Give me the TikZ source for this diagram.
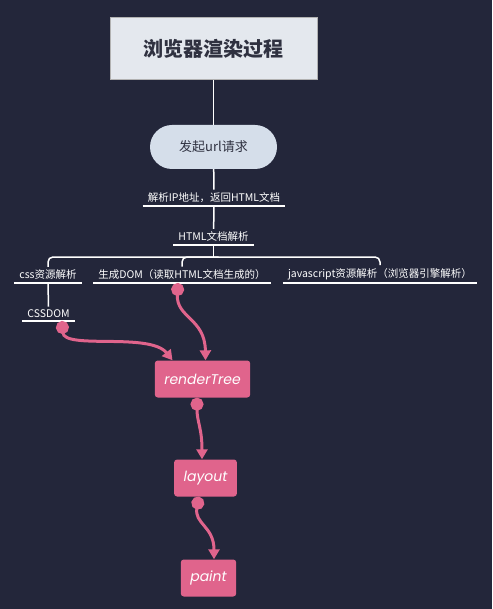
\documentclass[tikz,border=0pt]{standalone}
\usepackage{fontspec}
\newfontfamily\cjk{Noto Sans CJK SC}
\newfontfamily\poppins{Poppins}
\usetikzlibrary{arrows.meta,calc}
\definecolor{bgnavy}{HTML}{23263A}
\definecolor{titlegray}{HTML}{E4E8EE}
\definecolor{pillblue}{HTML}{D5DEEA}
\definecolor{inkdark}{HTML}{2F3140}
\definecolor{rosepink}{HTML}{E0648C}
\tikzset{
  topic/.style={text=white, font=\cjk\fontsize{10.5}{12}\selectfont, inner xsep=5pt, inner ysep=3pt, anchor=south},
  stepbox/.style={fill=rosepink, rounded corners=3pt, text=white, font=\poppins\itshape\fontsize{14}{16}\selectfont, inner xsep=9.5pt, minimum height=37pt},
  link/.style={draw=white, line width=1.5pt},
  flow/.style={draw=rosepink, line width=3pt, {Circle[length=13pt]}-{Triangle[width=11pt,length=10pt]}}
}
\begin{document}
\begin{tikzpicture}[x=1pt,y=-1pt] % Rendering steps of the browser
\fill[bgnavy] (0,0) rectangle (492,609);
    \node[fill=titlegray, draw=gray!60, line width=1pt, text=inkdark, font=\cjk\bfseries\fontsize{20}{24}\selectfont, minimum width=207pt, minimum height=62pt] (title) at (213.5,49) {浏览器渲染过程};
    \node[fill=pillblue, rounded corners=22pt, text=inkdark, font=\cjk\fontsize{13}{16}\selectfont, minimum width=127pt, minimum height=44pt] (request) at (213.5,147) {发起url请求};
    \node[topic] (ipaddr) at (214,206) {解析IP地址，返回HTML文档};
    \node[topic] (parse) at (213.5,245) {HTML文档解析};
    \node[topic] (css) at (48,283) {css资源解析};
    \node[topic] (dom) at (182,283) {生成DOM（读取HTML文档生成的）};
    \node[topic] (js) at (380,283) {javascript资源解析（浏览器引擎解析）};
    \node[topic] (cssdom) at (48.5,321) {CSSDOM};
    \node[stepbox] (render) at (202.5,379) {renderTree};
    \node[stepbox] (layout) at (205.5,478) {layout};
    \node[stepbox] (paint) at (208.5,578) {paint};
    % underlines
    \foreach \n in {ipaddr,parse,css,dom,js,cssdom}
        \draw[link] (\n.south west) -- (\n.south east);
    % white connectors
    \coordinate (fork) at (213.5,257);
    \draw[link] (title) -- (request);
    \draw[link] (request) -- (ipaddr);
    \draw[link] (ipaddr.south) -- (parse);
    \draw[link] (parse.south) -- (fork);
    \draw[link, rounded corners=5pt] (css.north) |- (fork) -| (js.north);
    \draw[link, rounded corners=5pt] (dom.north) |- ($(fork)+(5,0)$);
    \draw[link] (css.south) -- (cssdom.north);
    % pink flow
    \draw[flow] ($(cssdom.south)+(13.5,0)$) .. controls (64,350) and (150,332) .. ($(render.north)+(-30,0)$);
    \draw[flow] ($(dom.south)+(-4,0)$) .. controls (176,318) and (205,318) .. ($(render.north)+(3,0)$);
    \draw[flow] ($(render.south)+(-5.5,0)$) .. controls (197,422) and (202,428) .. ($(layout.north)+(-3.5,0)$);
    \draw[flow] ($(layout.south)+(-6.5,0)$) .. controls (194,524) and (214,526) .. ($(paint.north)+(5.5,0)$);
\end{tikzpicture}
\end{document}
